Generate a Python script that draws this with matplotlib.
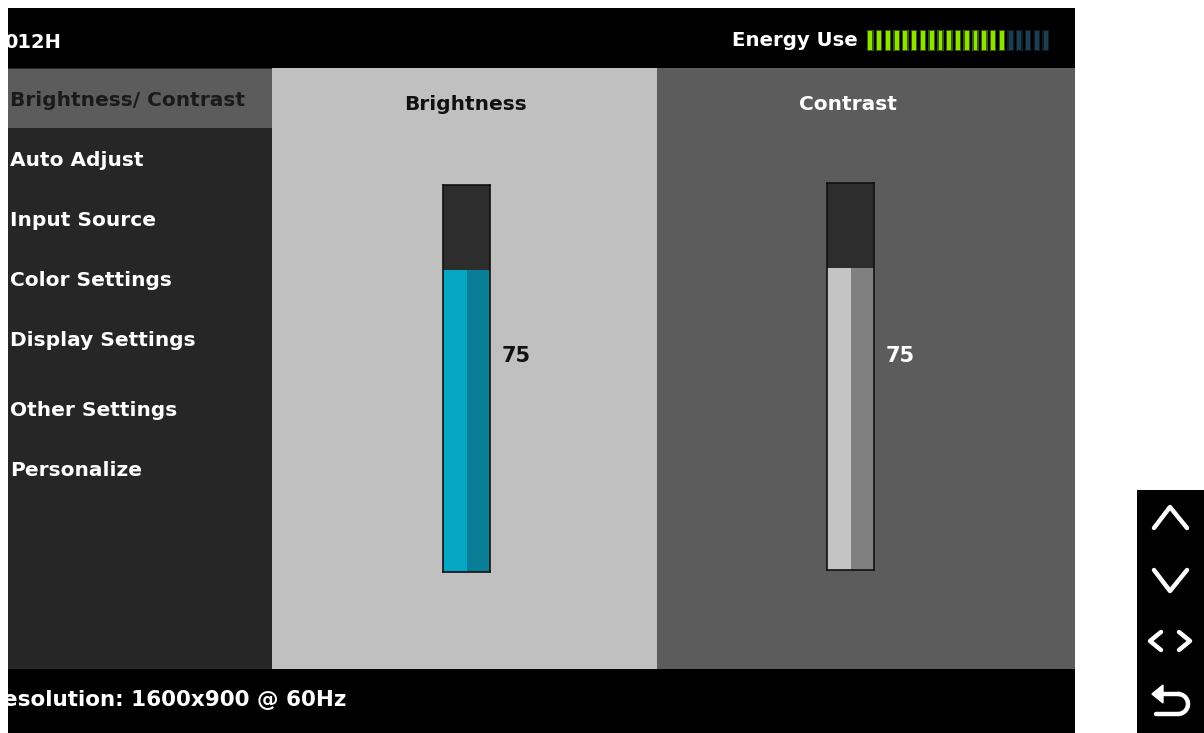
import matplotlib
matplotlib.use("Agg")
import matplotlib.pyplot as plt
from matplotlib.patches import Rectangle, Polygon, Arc
import numpy as np

# ---------------- data ----------------
model_text = "012H"
menu_items = ["Brightness/ Contrast", "Auto Adjust", "Input Source", "Color Settings",
              "Display Settings", "Other Settings", "Personalize"]
selected_item = "Brightness/ Contrast"
slider_labels = ["Brightness", "Contrast"]
slider_values = [75, 75]
energy_label = "Energy Use"
energy_segments_total = 21
energy_segments_lit = 16
status_text = "esolution: 1600x900 @ 60Hz"

# ---------------- style / layout ----------------
W, H = 1204, 733
FONT = "DejaVu Sans"
menu_y = [101, 160, 220, 280, 340, 410, 470]
TRACK_MAX = 96  # slider track scale

fig = plt.figure(figsize=(W / 100, H / 100), dpi=100)
fig.patch.set_facecolor("white")
ax = fig.add_axes([0, 0, 1, 1])
ax.set_xlim(0, W)
ax.set_ylim(H, 0)
ax.axis("off")


def rect(x0, y0, x1, y1, color, **kw):
    ax.add_patch(Rectangle((x0, y0), x1 - x0, y1 - y0, facecolor=color, edgecolor="none", **kw))


# panels
rect(8, 8, 1075, 733, "black")
rect(8, 68, 272, 669, "#262626")
rect(8, 69, 272, 128, "#5c5c5c")
rect(272, 68, 657, 669, "#c0c0c0")
rect(657, 68, 1075, 669, "#5c5c5c")
rect(8, 669, 1075, 733, "black")
rect(1137, 490, 1204, 733, "black")

clip = Rectangle((8, 8), 1067, 725, transform=ax.transData)

# header
t = ax.text(4, 42, model_text, color="white", fontsize=14, fontweight="bold",
            family=FONT, va="center", ha="left")
t.set_clip_path(clip)

# menu
for label, y in zip(menu_items, menu_y):
    col = "#1a1a1a" if label == selected_item else "white"
    ax.text(10, y, label, color=col, fontsize=14.5, fontweight="bold", family=FONT,
            va="center", ha="left")

# status bar
t = ax.text(3, 700, status_text, color="white", fontsize=15.5, fontweight="bold",
            family=FONT, va="center", ha="left")
t.set_clip_path(clip)

# energy use
ax.text(858, 41, energy_label, color="white", fontsize=14.2, fontweight="bold",
        family=FONT, va="center", ha="right")
eax = fig.add_axes([866 / W, 1 - 51 / H, (1050 - 866) / W, 21 / H])
eax.set_xlim(-0.5, energy_segments_total - 0.5)
eax.set_ylim(0, 1)
eax.axis("off")
seg_x = np.arange(energy_segments_total)
seg_colors = ["#8ee400" if i < energy_segments_lit else "#1d3d52" for i in seg_x]
glow_colors = ["#5a9a00" if i < energy_segments_lit else "#16303f" for i in seg_x]
eax.bar(seg_x, [1] * energy_segments_total, width=0.75, color=glow_colors, alpha=0.6)
eax.bar(seg_x, [0.9] * energy_segments_total, bottom=0.05, width=0.45, color=seg_colors)

# sliders
slider_specs = [
    dict(x0=443, x1=490, y0=185, y1=572, light="#06a7c5", dark="#087f96",
         head_x=465, text_col="#111111", num_col="#111111"),
    dict(x0=827, x1=874, y0=183, y1=570, light="#c4c4c4", dark="#808080",
         head_x=848, text_col="white", num_col="white"),
]
for label, val, s in zip(slider_labels, slider_values, slider_specs):
    ax.text(s["head_x"], 104, label, color=s["text_col"], fontsize=14.5, fontweight="bold",
            family=FONT, va="center", ha="center")
    sax = fig.add_axes([s["x0"] / W, 1 - s["y1"] / H, (s["x1"] - s["x0"]) / W,
                        (s["y1"] - s["y0"]) / H])
    sax.set_facecolor("#2d2d2d")
    sax.set_xlim(0, 1)
    sax.set_ylim(0, TRACK_MAX)
    sax.set_xticks([])
    sax.set_yticks([])
    for sp in sax.spines.values():
        sp.set_color("#111111")
        sp.set_linewidth(1.2)
    sax.bar([0.25, 0.75], [val, val], width=0.5, color=[s["light"], s["dark"]], align="center")
    ax.text(s["x1"] + 12, 356, str(val), color=s["num_col"], fontsize=15, fontweight="bold",
            family=FONT, va="center", ha="left")

# navigation icons
lw = 3.2
ax.plot([1154, 1170, 1187], [528, 507, 528], color="white", lw=lw, solid_capstyle="round")
ax.plot([1154, 1170, 1187], [570, 591, 570], color="white", lw=lw, solid_capstyle="round")
ax.plot([1161, 1150, 1161], [632, 641, 650], color="white", lw=lw, solid_capstyle="round")
ax.plot([1179, 1190, 1179], [632, 641, 650], color="white", lw=lw, solid_capstyle="round")
# return arrow
ax.add_patch(Polygon([[1152, 694], [1163, 685], [1163, 703]], closed=True,
                     facecolor="white", edgecolor="white"))
ax.plot([1162, 1178], [694, 694], color="white", lw=lw)
ax.add_patch(Arc((1178, 704), 20, 20, theta1=-90, theta2=90, color="white", lw=lw))
ax.plot([1178, 1156], [714, 714], color="white", lw=lw, solid_capstyle="round")

fig.savefig("out.png", dpi=100, facecolor="white")
